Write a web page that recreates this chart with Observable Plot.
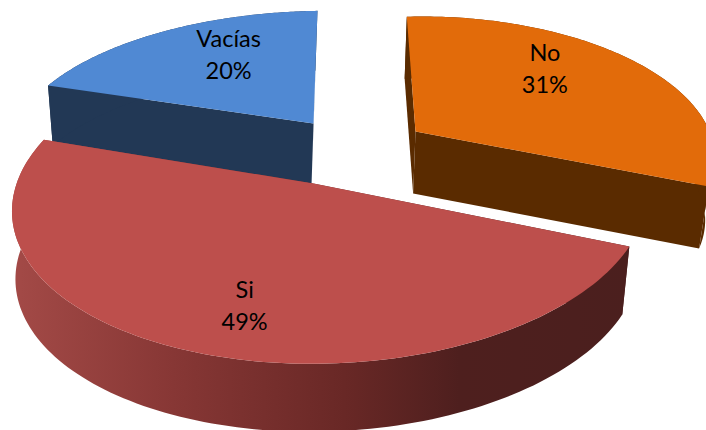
<!DOCTYPE html>
<html>
<head>
<meta charset="utf-8">
<script src="https://cdn.jsdelivr.net/npm/d3@7"></script>
<script src="https://cdn.jsdelivr.net/npm/@observablehq/plot@0.6"></script>
<style>html,body{margin:0;padding:0;background:#fff}</style>
</head>
<body>
<div id="chart"></div>
<script>
// Data
const categories = ["No", "Si", "Vacías"];
const shares = [31, 49, 20];
const labelTexts = ["No\n31%", "Si\n49%", "Vacías\n20%"];
const topColors = ["#e26b0a", "#bd4f4c", "#5089d3"];
const wallColors = ["#5a2b00", "url(#siWall)", "#223855"];

// 3-D view of each exploded slice: apex on screen, homography of the unit disc, wall depth
const views = [
  {ax: 415, ay: 131, a: 275, b: 10, c: 0, d: 132, p: 0.15, q: 0.065, rot: 0, depth: 62, vx: 320, shrink: 0.975, lr: 0.694, lt: 46.8},
  {ax: 313, ay: 183, a: 314.5, b: 0, c: -10, d: 159, p: 0.118, q: 0.05, rot: 3, depth: 68, vx: 215, shrink: 0.983, lr: 0.74, lt: 192.9},
  {ax: 313, ay: 123, a: 311, b: -4.8, c: 0, d: 136, p: 0.207, q: 0.047, rot: 0, depth: 60, vx: 235, shrink: 0.975, lr: 0.64, lt: 330.3}
];
const rad = Math.PI / 180;

function project(view, turn, r) {
  const t = (turn + view.rot) * rad;
  const u = r * Math.sin(t), v = -r * Math.cos(t);
  const w = 1 - view.p * v - view.q * u;
  return {x: view.ax + (view.a * u + view.b * v) / w, y: view.ay + (view.c * u + view.d * v) / w};
}
const lower = (view, pt) => ({x: view.vx + (pt.x - view.vx) * view.shrink, y: pt.y + view.depth});

// Angles come from the shares, clockwise from the top
const total = d3.sum(shares);
let acc = 0;
const slices = categories.map((name, i) => {
  const start = acc * 360 / total;
  acc += shares[i];
  return {name, start, end: acc * 360 / total, view: views[i], i};
});

const marks = [];
marks.push(() => {
  const defs = d3.create("svg:defs");
  const g = defs.append("linearGradient").attr("id", "siWall")
    .attr("gradientUnits", "userSpaceOnUse")
    .attr("x1", 20).attr("x2", 630).attr("y1", 0).attr("y2", 0);
  [[0, "#a24946"], [0.25, "#873735"], [0.53, "#692826"], [0.72, "#4e1f1e"], [1, "#4b1f1e"]]
    .forEach(([o, c]) => g.append("stop").attr("offset", o).attr("stop-color", c));
  return defs.node();
});
const poly = (pts, fill) => Plot.line(pts, {x: "x", y: "y", fill, stroke: "none", curve: "linear-closed"});

// Back to front: Vacías, No, Si
for (const s of [slices[2], slices[0], slices[1]]) {
  const rim = d3.range(0, 121).map(k => project(s.view, s.start + (s.end - s.start) * k / 120, 1));
  const apex = project(s.view, 0, 0);
  const first = rim[0], last = rim[rim.length - 1];
  const wall = wallColors[s.i];
  marks.push(poly([apex, first, lower(s.view, first), lower(s.view, apex)], wall));
  marks.push(poly([apex, last, lower(s.view, last), lower(s.view, apex)], wall));
  marks.push(poly([...rim, ...rim.map(p => lower(s.view, p)).reverse()], wall));
  marks.push(poly([apex, ...rim], topColors[s.i]));
}

const labels = slices.map(s => ({text: labelTexts[s.i], ...project(s.view, s.view.lt, s.view.lr)}));
marks.push(Plot.text(labels, {
  x: "x", y: "y", text: "text", fill: "#000", fontSize: 23.5, lineHeight: 1.36, dy: -4,
  fontFamily: "Lato", textAnchor: "middle"
}));

const chart = Plot.plot({
  width: 706, height: 430,
  marginTop: 0, marginRight: 0, marginBottom: 0, marginLeft: 0,
  x: {domain: [0, 706], range: [0, 706], axis: null},
  y: {domain: [0, 430], range: [0, 430], axis: null},
  style: {background: "#fff"},
  marks
});
document.getElementById("chart").append(chart);
</script>
</body>
</html>
